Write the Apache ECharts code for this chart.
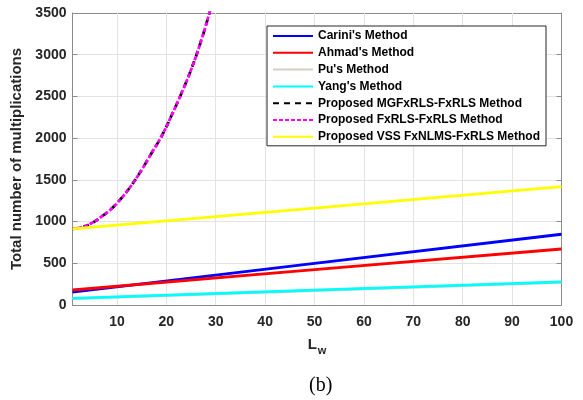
<!DOCTYPE html>
<html>
<head>
<meta charset="utf-8">
<script src="https://cdn.jsdelivr.net/npm/echarts@6/dist/echarts.min.js"></script>
<style>
  html, body { margin: 0; padding: 0; background: #fff; }
  #main { width: 583px; height: 400px; }
</style>
</head>
<body>
<div id="main"></div>
<script>
// 数据
var lwLin = [1, 50, 100];
var carini = [155, 500, 848];
var ahmad = [180, 423, 671];
var pu = [76, 174, 270];
var yang = [80, 178, 276];
var vss = [912, 1162, 1418];

var lwCurve = [1, 3, 5, 7, 9, 11, 13, 15, 17, 19, 21, 23, 25, 27, 29, 31];
var fxrls = [912, 935, 985, 1065, 1160, 1288, 1440, 1620, 1820, 2020, 2265, 2530, 2820, 3160, 3560, 4000];
var mgfxrls = fxrls.slice();

// 坐标轴刻度
var xTickValues = [10, 20, 30, 40, 50, 60, 70, 80, 90, 100];
var xRange = [1, 100];
var yTicks = { min: 0, max: 3500, interval: 500 };

function pairs(xs, ys) {
    var out = [];
    for (var i = 0; i < xs.length; i++) out.push([xs[i], ys[i]]);
    return out;
}

var myChart = echarts.init(document.getElementById('main'));

var axisGrey = '#8c8c8c';
var gridGrey = '#e3e3e3';
var labelFont = { fontFamily: 'Liberation Sans', fontWeight: 'bold', fontSize: 14, color: '#262626' };

function line(name, data, color, type, width) {
    return {
        name: name,
        type: 'line',
        data: data,
        symbol: 'none',
        smooth: false,
        z: 3,
        lineStyle: { color: color, width: width || 2.8, type: type || 'solid' },
        itemStyle: { color: color }
    };
}

// 竖直网格线（刻度从10开始，不从最小值1开始）
var vGrid = [];
for (var i = 0; i < xTickValues.length - 1; i++) vGrid.push({ xAxis: xTickValues[i] });

option = {
    animation: false,
    backgroundColor: '#fff',
    title: {
        text: '(b)',
        left: 304,
        top: 371,
        textStyle: { fontFamily: 'Liberation Serif', fontWeight: 'normal', fontSize: 20, color: '#000' }
    },
    grid: { left: 72.5, right: 21.5, top: 13, bottom: 95, containLabel: false },
    legend: {
        orient: 'vertical',
        left: 267,
        top: 26,
        z: 20,
        itemWidth: 40,
        itemHeight: 12,
        itemGap: 4.8,
        padding: [4, 6, 3, 5],
        borderColor: '#262626',
        borderWidth: 1,
        backgroundColor: '#fff',
        itemStyle: { opacity: 0 },
        textStyle: { fontFamily: 'Liberation Sans', fontWeight: 'bold', fontSize: 12, color: '#000' },
        data: ["Carini's Method", "Ahmad's Method", "Pu's Method", "Yang's Method",
               'Proposed MGFxRLS-FxRLS Method', 'Proposed FxRLS-FxRLS Method', 'Proposed VSS FxNLMS-FxRLS Method']
    },
    xAxis: [{
        type: 'value',
        min: xRange[0], max: xRange[1],
        name: '{a|L}{b|w}',
        nameLocation: 'middle',
        nameGap: 28,
        nameTextStyle: {
            rich: {
                a: { fontFamily: 'Liberation Sans', fontWeight: 'bold', fontSize: 15, color: '#262626' },
                b: { fontFamily: 'Liberation Sans', fontWeight: 'bold', fontSize: 11, color: '#262626', padding: [12, 0, 0, 1] }
            }
        },
        axisLine: { show: true, lineStyle: { color: axisGrey, width: 1 } },
        axisTick: { show: true, inside: true, length: 5, customValues: xTickValues, lineStyle: { color: axisGrey } },
        axisLabel: Object.assign({ margin: 10, customValues: xTickValues }, labelFont),
        splitLine: { show: false }
    }, {
        type: 'value', position: 'top',
        min: xRange[0], max: xRange[1],
        axisLine: { show: true, onZero: false, lineStyle: { color: axisGrey, width: 1 } },
        axisTick: { show: true, inside: true, length: 5, customValues: xTickValues, lineStyle: { color: axisGrey } },
        axisLabel: { show: false, customValues: xTickValues },
        splitLine: { show: false }
    }],
    yAxis: [{
        type: 'value',
        min: yTicks.min, max: yTicks.max, interval: yTicks.interval,
        name: 'Total number of multiplications',
        nameLocation: 'middle',
        nameGap: 43,
        nameTextStyle: { fontFamily: 'Liberation Sans', fontWeight: 'bold', fontSize: 15, color: '#262626' },
        axisLine: { show: true, lineStyle: { color: axisGrey, width: 1 } },
        axisTick: { show: true, inside: true, length: 5, lineStyle: { color: axisGrey } },
        axisLabel: Object.assign({ margin: 6, formatter: function (v) { return String(v); } }, labelFont),
        splitLine: { show: true, lineStyle: { color: gridGrey, width: 1 } }
    }, {
        type: 'value', position: 'right',
        min: yTicks.min, max: yTicks.max, interval: yTicks.interval,
        axisLine: { show: true, onZero: false, lineStyle: { color: axisGrey, width: 1 } },
        axisTick: { show: true, inside: true, length: 5, lineStyle: { color: axisGrey } },
        axisLabel: { show: false },
        splitLine: { show: false }
    }],
    series: [
        {
            name: 'grid',
            type: 'line',
            data: pairs(lwLin, carini),
            symbol: 'none',
            silent: true,
            z: 1,
            lineStyle: { opacity: 0 },
            markLine: {
                silent: true,
                z: 1,
                symbol: ['none', 'none'],
                label: { show: false },
                lineStyle: { color: gridGrey, width: 1, type: 'solid' },
                data: vGrid
            }
        },
        line("Carini's Method", pairs(lwLin, carini), '#0000ff'),
        line("Ahmad's Method", pairs(lwLin, ahmad), '#ff0000'),
        line("Pu's Method", pairs(lwLin, pu), '#d3cfc6'),
        line("Yang's Method", pairs(lwLin, yang), '#00ffff'),
        line('Proposed MGFxRLS-FxRLS Method', pairs(lwCurve, mgfxrls), '#000000', [6, 5], 2.8),
        line('Proposed FxRLS-FxRLS Method', pairs(lwCurve, fxrls), '#ff00ff', [4, 2], 2.8),
        line('Proposed VSS FxNLMS-FxRLS Method', pairs(lwLin, vss), '#ffff00')
    ]
};

// 曲线用平滑
option.series[5].smooth = true;
option.series[6].smooth = true;

myChart.setOption(option);
</script>
</body>
</html>
